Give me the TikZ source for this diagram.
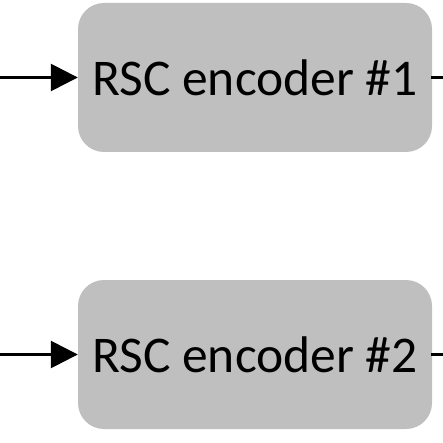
\documentclass[tikz,border=0pt]{standalone}
\usepackage{fontspec}
\setmainfont{Carlito}
\usetikzlibrary{arrows.meta}

\begin{document}
\begin{tikzpicture}[x=1pt, y=-1pt]
    \useasboundingbox (0,0) rectangle (443,443);
    \tikzset{encbox/.style={fill=black!25, rounded corners=26pt, minimum width=354pt, minimum height=149pt, inner sep=0pt, font=\fontsize{51.5}{60}\selectfont}}
    \tikzset{wire/.style={line width=2.7pt}}
    \tikzset{bigtip/.style={-{Triangle[length=27pt, width=27pt]}}}

    % Create the two encoders
    \node[encbox] (enc1) at (255,77.5) {RSC encoder \#1};
    \node[encbox] (enc2) at (255,354.5) {RSC encoder \#2};

    % Free ends of the wires
    \coordinate (in1) at (0,77.5);
    \coordinate (in2) at (0,354.5);
    \coordinate (out1) at (443,77.5);
    \coordinate (out2) at (443,354.5);

    % Draw wires
    \draw[wire, bigtip] (in1) -- (enc1.west);
    \draw[wire, bigtip] (in2) -- (enc2.west);
    \draw[wire] ([xshift=-1pt]enc1.east) -- (out1);
    \draw[wire] ([xshift=-1pt]enc2.east) -- (out2);
\end{tikzpicture}
\end{document}
